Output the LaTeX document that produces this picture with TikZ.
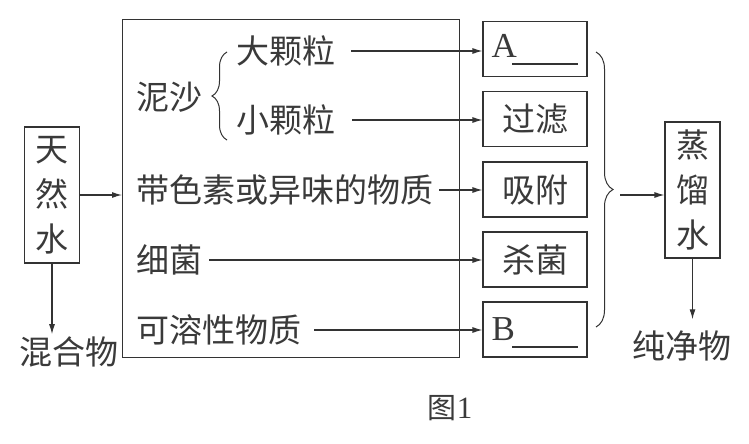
\documentclass[tikz,border=0pt]{standalone}
\usepackage{fontspec}
\setmainfont{Liberation Serif}
\newfontfamily\cjk{Noto Sans CJK SC}
\usetikzlibrary{arrows.meta,decorations.pathreplacing}
\definecolor{ink}{HTML}{333333}
\definecolor{tink}{HTML}{3A3A3A}
\begin{document}
\begin{tikzpicture}[x=1pt,y=-1pt,line width=1.1pt,draw=ink,text=tink,
  box/.style={draw,minimum width=104pt,minimum height=55pt,inner sep=0pt,font=\cjk\fontsize{33}{33}\selectfont},
  vbox/.style={draw,minimum width=55pt,minimum height=136pt,inner sep=0pt,align=center,font=\cjk\fontsize{33}{45}\selectfont},
  txt/.style={font=\cjk\fontsize{33}{33}\selectfont,inner sep=0pt,anchor=west},
  arr/.style={-{Latex[length=10pt,width=6pt]}},
  brc/.style={decorate,decoration={brace,amplitude=#1}}]
\useasboundingbox (0,0) rectangle (749,444);
\fill[white] (0,0) rectangle (749,444);

% big box
\node[draw,minimum width=337pt,minimum height=338pt,inner sep=0pt,anchor=north west] (big) at (122,19) {};

% left box
\node[vbox] (tr) at (52,195) {天\\然\\水};
\node[txt,anchor=center] (mix) at (69,352) {混合物};

% right boxes
\node[box] (bA) at (535,49) {};
\node[box] (bG) at (535,119) {过滤};
\node[box] (bX) at (535,189.5) {吸附};
\node[box] (bS) at (535,259.5) {杀菌};
\node[box] (bB) at (535,329.5) {};
\node[inner sep=0pt,anchor=base west,font=\fontsize{35}{35}\selectfont] (lA) at (491,57) {A};
\node[inner sep=0pt,anchor=base west,font=\fontsize{35}{35}\selectfont] (lB) at (491,340) {B};
\draw[line width=1.2pt] (512,64) -- (578,64);
\draw[line width=1.2pt] (512,347) -- (578,347);

% distilled water
\node[vbox] (zl) at (692.5,190) {蒸\\馏\\水};
\node[txt,anchor=center] (pure) at (682,346) {纯净物};

% texts inside big box
\node[txt] (ns) at (136,97) {泥沙};
\node[txt] (dk) at (236,51) {大颗粒};
\node[txt] (xk) at (236,120) {小颗粒};
\node[txt] (ds) at (136,190) {带色素或异味的物质};
\node[txt] (xj) at (136,260) {细菌};
\node[txt] (kr) at (136,330) {可溶性物质};

% caption
\node[inner sep=0pt] (cap) at (450,408) {\cjk\fontsize{29}{29}\selectfont 图\fontsize{31}{31}\selectfont\rmfamily 1};

% braces
\draw[brc=15pt,line width=1pt] (227,140) -- (227,52);
\draw[brc=17pt,line width=1pt] (596,52) -- (596,327);
\coordinate (bt) at (620,195);

% arrows
\draw[arr] (tr.east) -- (tr.east -| big.west);
\draw[arr] (tr.south) -- ([yshift=2pt]tr.south |- mix.north);
\draw[arr] (zl.south) -- ([yshift=11pt]zl.south |- pure.north);
\draw[arr] (bt) -- (bt -| zl.west);
\draw[arr,shorten <=15pt] (dk.east) -- (dk.east -| bA.west);
\draw[arr,shorten <=16pt] (xk.east) -- (xk.east -| bG.west);
\draw[arr,shorten <=5pt] (ds.east) -- (ds.east -| bX.west);
\draw[arr,shorten <=6pt] (xj.east) -- (xj.east -| bS.west);
\draw[arr,shorten <=12pt] (kr.east) -- (kr.east -| bB.west);
\end{tikzpicture}
\end{document}
